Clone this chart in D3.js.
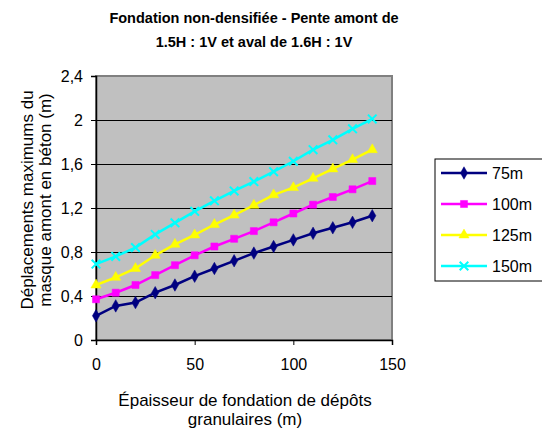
<!DOCTYPE html>
<html>
<head>
<meta charset="utf-8">
<script src="https://cdn.jsdelivr.net/npm/d3@7"></script>
<style>
  body { margin: 0; background: #fff; }
  svg { display: block; font-family: "Liberation Sans", Arial, sans-serif; }
</style>
</head>
<body>
<div id="chart"></div>
<script>
// data
const epaisseur = [0, 10, 20, 30, 40, 50, 60, 70, 80, 90, 100, 110, 120, 130, 140];

const hauteurs = ["75m", "100m", "125m", "150m"];

const depl75 = [0.22, 0.31, 0.34, 0.43, 0.50, 0.58, 0.65, 0.72, 0.79, 0.85, 0.91, 0.97, 1.02, 1.07, 1.13];
const depl100 = [0.37, 0.43, 0.50, 0.59, 0.68, 0.77, 0.85, 0.92, 0.99, 1.07, 1.15, 1.23, 1.30, 1.37, 1.445];
const depl125 = [0.50, 0.57, 0.65, 0.77, 0.87, 0.955, 1.05, 1.135, 1.225, 1.32, 1.385, 1.47, 1.555, 1.64, 1.73];
const depl150 = [0.69, 0.76, 0.84, 0.96, 1.065, 1.17, 1.265, 1.355, 1.44, 1.53, 1.625, 1.73, 1.82, 1.92, 2.01];

const couleurs = ["#000080", "#ff00ff", "#ffff00", "#00ffff"];
const symboles = ["diamond", "square", "triangle", "cross"];

const xTicks = [0, 50, 100, 150];
const yTicks = [0, 0.4, 0.8, 1.2, 1.6, 2.0, 2.4];

const series = hauteurs.map((h, i) => ({
  name: h,
  color: couleurs[i],
  symbol: symboles[i],
  values: [depl75, depl100, depl125, depl150][i].map((v, j) => ({ x: epaisseur[j], y: v }))
}));

// svg
const width = 542, height = 434;
const plot = { left: 96, right: 392, top: 76, bottom: 340 };

const svg = d3.select("#chart").append("svg")
  .attr("width", width)
  .attr("height", height);

const x = d3.scaleLinear().domain([0, 150]).range([plot.left, plot.right]);
const y = d3.scaleLinear().domain([0, 2.4]).range([plot.bottom, plot.top]);

// plot area
svg.append("rect")
  .attr("x", plot.left).attr("y", plot.top)
  .attr("width", plot.right - plot.left).attr("height", plot.bottom - plot.top)
  .attr("fill", "#c0c0c0")
  .attr("stroke", "#808080")
  .attr("stroke-width", 2);

// gridlines
svg.append("g")
  .selectAll("line")
  .data(yTicks.filter(d => d > 0 && d < 2.4))
  .join("line")
  .attr("x1", plot.left).attr("x2", plot.right)
  .attr("y1", d => Math.round(y(d)) + 0.5).attr("y2", d => Math.round(y(d)) + 0.5)
  .attr("stroke", "#000").attr("stroke-width", 1);

// axes
const fmtY = d => d3.format(".1f")(d).replace(".", ",").replace(",0", "");

const yAxis = svg.append("g")
  .attr("transform", `translate(${plot.left},0)`)
  .call(d3.axisLeft(y).tickValues(yTicks).tickFormat(fmtY).tickSize(5).tickPadding(8));

const xAxis = svg.append("g")
  .attr("transform", `translate(0,${plot.bottom})`)
  .call(d3.axisBottom(x).tickValues(xTicks).tickSize(5).tickPadding(14));

[xAxis, yAxis].forEach(g => {
  g.select(".domain").attr("stroke", "#000").attr("stroke-width", 1.5);
  g.selectAll(".tick line").attr("stroke", "#000");
  g.selectAll("text")
    .attr("font-family", "Liberation Sans, Arial, sans-serif")
    .attr("font-size", 16)
    .attr("fill", "#000");
});

// lines
const line = d3.line().x(d => x(d.x)).y(d => y(d.y));

const symbolType = {
  diamond: d3.symbolDiamond,
  square: d3.symbolSquare,
  triangle: d3.symbolTriangle,
  cross: d3.symbolTimes
};

const symbolSize = { diamond: 45, square: 50, triangle: 45, cross: 50 };

function drawMarker(g, s, cx, cy) {
  const p = d3.symbol().type(symbolType[s.symbol]).size(symbolSize[s.symbol]);
  g.append("path")
    .attr("d", p)
    .attr("transform", `translate(${cx},${cy})`)
    .attr("fill", s.symbol === "cross" ? "none" : s.color)
    .attr("stroke", s.color)
    .attr("stroke-width", s.symbol === "cross" ? 2 : 0.5);
}

series.forEach(s => {
  const g = svg.append("g");
  g.append("path")
    .datum(s.values)
    .attr("d", line)
    .attr("fill", "none")
    .attr("stroke", s.color)
    .attr("stroke-width", 2.5);
  s.values.forEach(d => drawMarker(g, s, x(d.x), y(d.y)));
});

// title
svg.append("text")
  .attr("x", 254).attr("y", 23)
  .attr("text-anchor", "middle")
  .attr("font-size", 14.5).attr("font-weight", "bold")
  .text("Fondation non-densifiée - Pente amont de");
svg.append("text")
  .attr("x", 254).attr("y", 47)
  .attr("text-anchor", "middle")
  .attr("font-size", 14.5).attr("font-weight", "bold")
  .text("1.5H : 1V et aval de 1.6H : 1V");

// axis titles
svg.append("text")
  .attr("x", 245).attr("y", 406)
  .attr("text-anchor", "middle")
  .attr("font-size", 17)
  .text("Épaisseur de fondation de dépôts");
svg.append("text")
  .attr("x", 245).attr("y", 425)
  .attr("text-anchor", "middle")
  .attr("font-size", 17)
  .text("granulaires (m)");

svg.append("text")
  .attr("transform", "translate(33,200) rotate(-90)")
  .attr("text-anchor", "middle")
  .attr("font-size", 17)
  .text("Déplacements maximums du");
svg.append("text")
  .attr("transform", "translate(51,200) rotate(-90)")
  .attr("text-anchor", "middle")
  .attr("font-size", 17)
  .text("masque amont en béton (m)");

// legend
const legend = svg.append("g");
legend.append("rect")
  .attr("x", 435).attr("y", 159)
  .attr("width", 120).attr("height", 122)
  .attr("fill", "#fff")
  .attr("stroke", "#000").attr("stroke-width", 1);

const legendY = d3.scalePoint().domain(hauteurs).range([173, 266]);

series.forEach(s => {
  const ly = legendY(s.name);
  legend.append("line")
    .attr("x1", 441).attr("x2", 487)
    .attr("y1", ly).attr("y2", ly)
    .attr("stroke", s.color).attr("stroke-width", 2.5);
  drawMarker(legend, s, 464, ly);
  legend.append("text")
    .attr("x", 492).attr("y", ly + 6)
    .attr("font-size", 16)
    .text(s.name);
});
</script>
</body>
</html>
